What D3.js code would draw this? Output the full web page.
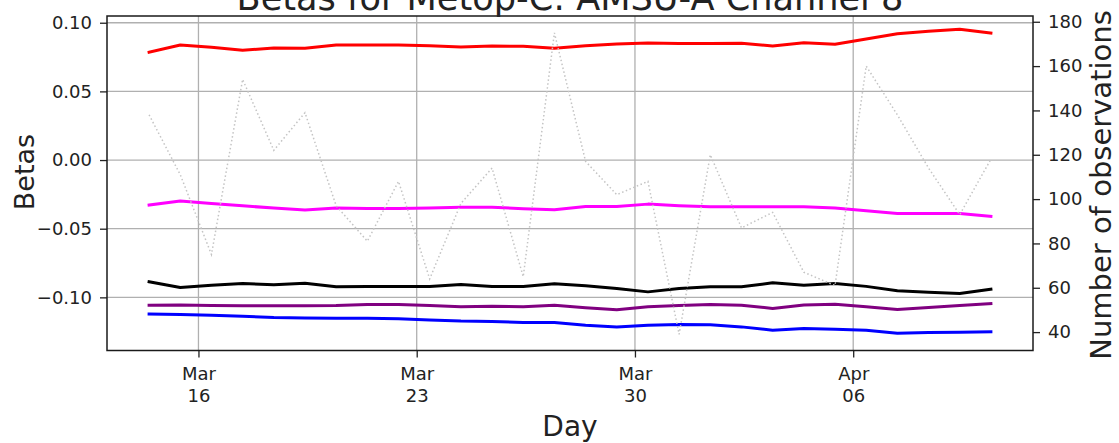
<!DOCTYPE html>
<html>
<head>
<meta charset="utf-8">
<script src="https://cdn.jsdelivr.net/npm/d3@7"></script>
<style>
  html, body { margin: 0; padding: 0; background: #fff; }
  svg { display: block; }
  text { font-family: "DejaVu Sans", sans-serif; fill: #222; }
</style>
</head>
<body>
<svg id="chart" width="1119" height="443"></svg>
<script>
// ---------------- data ----------------
const days = ["2023-03-14","2023-03-15","2023-03-16","2023-03-17","2023-03-18","2023-03-19","2023-03-20",
  "2023-03-21","2023-03-22","2023-03-23","2023-03-24","2023-03-25","2023-03-26","2023-03-27",
  "2023-03-28","2023-03-29","2023-03-30","2023-03-31","2023-04-01","2023-04-02","2023-04-03",
  "2023-04-04","2023-04-05","2023-04-06","2023-04-07","2023-04-08","2023-04-09","2023-04-10"];
const betaRed = [0.0785,0.0838,0.0821,0.0800,0.0816,0.0814,0.0838,0.0838,0.0838,0.0833,0.0824,0.0830,0.0828,0.0814,
  0.0833,0.0845,0.0853,0.0848,0.0848,0.0850,0.0831,0.0855,0.0843,0.0882,0.0920,0.0938,0.0952,0.0925];
const betaMagenta = [-0.0328,-0.0299,-0.0316,-0.0333,-0.0350,-0.0364,-0.0350,-0.0352,-0.0352,-0.0350,-0.0343,-0.0343,-0.0355,-0.0362,
  -0.0338,-0.0338,-0.0321,-0.0333,-0.0340,-0.0340,-0.0340,-0.0340,-0.0350,-0.0370,-0.0389,-0.0389,-0.0390,-0.0410];
const betaBlack = [-0.0887,-0.0928,-0.0911,-0.0899,-0.0909,-0.0897,-0.0923,-0.0921,-0.0921,-0.0921,-0.0906,-0.0921,-0.0921,-0.0901,
  -0.0916,-0.0935,-0.0960,-0.0935,-0.0923,-0.0923,-0.0894,-0.0911,-0.0899,-0.0920,-0.0952,-0.0962,-0.0972,-0.0940];
const betaPurple = [-0.1057,-0.1055,-0.1060,-0.1062,-0.1062,-0.1062,-0.1060,-0.1052,-0.1052,-0.1060,-0.1069,-0.1064,-0.1069,-0.1057,
  -0.1076,-0.1091,-0.1069,-0.1060,-0.1052,-0.1057,-0.1081,-0.1055,-0.1050,-0.1069,-0.1089,-0.1074,-0.1060,-0.1045];
const betaBlue = [-0.1122,-0.1125,-0.1130,-0.1137,-0.1147,-0.1150,-0.1152,-0.1152,-0.1155,-0.1164,-0.1173,-0.1176,-0.1183,-0.1183,
  -0.1203,-0.1215,-0.1203,-0.1198,-0.1200,-0.1215,-0.1239,-0.1227,-0.1232,-0.1239,-0.1261,-0.1256,-0.1254,-0.1251];
const nObs = [138,111,75,154,122,139,97,81,108,64,98,114,65,175,117,102,108,39,120,87,94,67,61,160,138,114,93,118];

const xTickDates = ["2023-03-16","2023-03-23","2023-03-30","2023-04-06"];
const leftTicks = [-0.10,-0.05,0.00,0.05,0.10];
const rightTicks = [40,60,80,100,120,140,160,180];
const titleText = "Betas for Metop-C: AMSU-A Channel 8";

// ---------------- layout ----------------
const svg = d3.select("#chart");
const L = 107, R = 1033, T = 16, B = 350.5;
const parse = d3.utcParse("%Y-%m-%dT%H:%M");
const dates = days.map(d => parse(d + "T10:00"));
const tickDates = xTickDates.map(d => parse(d + "T00:00"));

const [d0, d1] = d3.extent(dates);
const pad = (d1 - d0) * 0.05;
const x = d3.scaleUtc().domain([new Date(+d0 - pad), new Date(+d1 + pad)]).range([L, R]);
const yL = d3.scaleLinear().domain([-0.1387, 0.1049]).range([B, T]);
const yR = d3.scaleLinear().domain([31.7, 182.6]).range([B, T]);

// gridlines
const grid = svg.append("g").attr("stroke", "#b0b0b0").attr("stroke-width", 1.3);
grid.selectAll(".gx").data(tickDates).join("line")
  .attr("x1", d => x(d)).attr("x2", d => x(d)).attr("y1", T).attr("y2", B);
grid.selectAll(".gy").data(leftTicks).join("line")
  .attr("x1", L).attr("x2", R).attr("y1", d => yL(d)).attr("y2", d => yL(d));

// beta lines
const series = [
  {v: betaRed, c: "#ff0000"},
  {v: betaMagenta, c: "#ff00ff"},
  {v: betaBlack, c: "#000000"},
  {v: betaPurple, c: "#800080"},
  {v: betaBlue, c: "#0000ff"}
];
const lineL = d3.line().x((d, i) => x(dates[i])).y(d => yL(d));
const clip = svg.append("clipPath").attr("id", "clip").append("rect")
  .attr("x", L).attr("y", T).attr("width", R - L).attr("height", B - T);
const plot = svg.append("g").attr("clip-path", "url(#clip)");
series.forEach(s => {
  plot.append("path").datum(s.v).attr("d", lineL)
    .attr("fill", "none").attr("stroke", s.c).attr("stroke-width", 3)
    .attr("stroke-linejoin", "round").attr("stroke-linecap", "square");
});

// number of observations (twin axis)
const lineR = d3.line().x((d, i) => x(dates[i])).y(d => yR(d));
plot.append("path").datum(nObs).attr("d", lineR)
  .attr("fill", "none").attr("stroke", "#c4c4c4").attr("stroke-width", 1.5)
  .attr("stroke-dasharray", "1.5,2.5");

// axes
const fs = 18;
const axB = svg.append("g").attr("transform", `translate(0,${B})`)
  .call(d3.axisBottom(x).tickValues(tickDates).tickSize(7).tickFormat(() => ""));
const axLft = svg.append("g").attr("transform", `translate(${L},0)`)
  .call(d3.axisLeft(yL).tickValues(leftTicks).tickSize(7).tickPadding(8)
    .tickFormat(d => d3.format(".2f")(d).replace("-", "\u2212")));
const axRgt = svg.append("g").attr("transform", `translate(${R},0)`)
  .call(d3.axisRight(yR).tickValues(rightTicks).tickSize(7).tickPadding(8).tickFormat(d3.format("d")));
[axB, axLft, axRgt].forEach(a => {
  a.select(".domain").remove();
  a.selectAll(".tick line").attr("stroke", "#222").attr("stroke-width", 1.3);
  a.selectAll("text").attr("font-size", fs).attr("fill", "#262626")
    .style("font-family", "'DejaVu Sans', sans-serif");
});
// two-line date labels
const fmtMon = d3.utcFormat("%b"), fmtDay = d3.utcFormat("%d");
axB.selectAll(".tick").each(function(d) {
  const g = d3.select(this);
  g.append("text").attr("y", 29).attr("text-anchor", "middle").attr("font-size", fs)
    .attr("fill", "#262626").text(fmtMon(d));
  g.append("text").attr("y", 51).attr("text-anchor", "middle").attr("font-size", fs)
    .attr("fill", "#262626").text(fmtDay(d));
});

// frame
svg.append("rect").attr("x", L).attr("y", T).attr("width", R - L).attr("height", B - T)
  .attr("fill", "none").attr("stroke", "#1a1a1a").attr("stroke-width", 1.5);

// labels
svg.append("text").attr("x", (L + R) / 2).attr("y", 436).attr("text-anchor", "middle")
  .attr("font-size", 28).text("Day");
svg.append("text").attr("transform", "translate(34,172) rotate(-90)").attr("text-anchor", "middle")
  .attr("font-size", 27).text("Betas");
svg.append("text").attr("transform", "translate(1111,185) rotate(-90)").attr("text-anchor", "middle")
  .attr("font-size", 29).text("Number of observations");

// title (cut off at top, as in the reference)
const title = svg.append("text").attr("x", (L + R) / 2).attr("y", 10).attr("text-anchor", "middle")
  .attr("font-size", 100).text(titleText);
const w100 = title.node().getComputedTextLength();
title.attr("font-size", 100 * 667 / w100);
</script>
</body>
</html>
